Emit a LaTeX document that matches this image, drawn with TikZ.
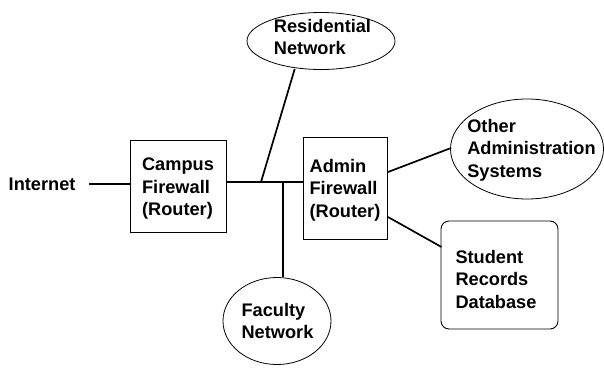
\documentclass[tikz,border=0pt]{standalone}
\usepackage{fontspec}
\setmainfont{Liberation Sans}
\usetikzlibrary{shapes.geometric}
\begin{document}
\begin{tikzpicture}[x=1pt,y=-1pt,
  lbl/.style={font=\fontsize{18.2}{22.5}\selectfont\bfseries, align=left, inner sep=0pt},
  boxnode/.style={draw, line width=0.9pt, inner sep=0pt},
  ellnode/.style={draw, ellipse, line width=0.8pt, inner sep=0pt},
  wire/.style={line width=1.7pt}]
\useasboundingbox (0,0) rectangle (604,370);
% boxes
\node[boxnode, minimum width=96pt, minimum height=92pt] (campus) at (178,186) {};
\node[boxnode, minimum width=84pt, minimum height=102pt] (admin) at (345,188) {};
\node[boxnode, rounded corners=8pt, minimum width=117pt, minimum height=108pt] (student) at (499.5,275) {};
% ellipses
\node[ellnode, minimum width=148pt, minimum height=57pt] (res) at (321,41) {};
\node[ellnode, minimum width=108pt, minimum height=87pt] (fac) at (277,321) {};
\node[ellnode, minimum width=153pt, minimum height=100pt] (oth) at (527,149) {};
% texts
\node[lbl, anchor=west] (inet) at (8.5,184) {Internet};
\node[lbl] (campusT) at (178,189) {Campus\\Firewall\\(Router)};
\node[lbl] (adminT) at (345,190) {Admin\\Firewall\\(Router)};
\node[lbl] (studentT) at (496,279) {Student\\Records\\Database};
\node[lbl] (resT) at (322.5,37) {Residential\\Network};
\node[lbl] (facT) at (277.5,321) {Faculty\\Network};
\node[lbl] (othT) at (531.5,150) {Other\\Administration\\Systems};
% junctions
\coordinate (inetEnd) at (89,184);
\coordinate (j1) at (261,182);
\coordinate (j2) at (283,182);
\coordinate (rb) at (294.7,69);
\coordinate (aOth) at (388,172);
\coordinate (aStu) at (388,217);
\coordinate (othW) at (451,148);
\coordinate (stuW) at (441.5,247);
% connectors
\draw[wire] (inetEnd) -- (campus.west |- inetEnd);
\draw[wire] (campus.east |- j1) -- (admin.west |- j1);
\draw[wire] (j1) -- (rb);
\draw[wire] (j2) -- (j2 |- fac.north);
\draw[wire] (aOth) -- (othW);
\draw[wire] (aStu) -- (stuW);
\end{tikzpicture}
\end{document}
